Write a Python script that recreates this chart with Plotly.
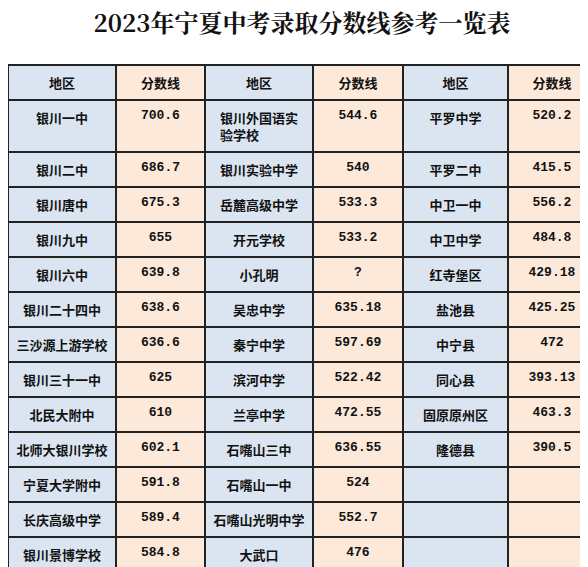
import plotly.graph_objects as go

title = "2023年宁夏中考录取分数线参考一览表"
headers = ["地区", "分数线", "地区", "分数线", "地区", "分数线"]

schools_1 = ["银川一中", "银川二中", "银川唐中", "银川九中", "银川六中", "银川二十四中", "三沙源上游学校",
             "银川三十一中", "北民大附中", "北师大银川学校", "宁夏大学附中", "长庆高级中学", "银川景博学校", "银川高级中学"]
scores_1 = ["700.6", "686.7", "675.3", "655", "639.8", "638.6", "636.6",
            "625", "610", "602.1", "591.8", "589.4", "584.8", "546.3"]
schools_2 = ["银川外国语实<br>验学校", "银川实验中学", "岳麓高级中学", "开元学校", "小孔明", "吴忠中学", "秦宁中学",
             "滨河中学", "兰亭中学", "石嘴山三中", "石嘴山一中", "石嘴山光明中学", "大武口", "惠农区"]
scores_2 = ["544.6", "540", "533.3", "533.2", "?", "635.18", "597.69",
            "522.42", "472.55", "636.55", "524", "552.7", "476", "462"]
schools_3 = ["平罗中学", "平罗二中", "中卫一中", "中卫中学", "红寺堡区", "盐池县", "中宁县",
             "同心县", "固原原州区", "隆德县", "", "", "", ""]
scores_3 = ["520.2", "415.5", "556.2", "484.8", "429.18", "425.25", "472",
            "393.13", "463.3", "390.5", "", "", "", ""]

BLUE = "#dbe5f1"
PEACH = "#fde9d9"
fills = [BLUE, PEACH, BLUE, PEACH, BLUE, PEACH]
cjk = "Noto Sans CJK SC"
mono = "Liberation Mono"
fonts = [cjk, mono, cjk, mono, cjk, mono]

def b(col):
    return ["<b>%s</b>" % v if v else "" for v in col]

fig = go.Figure(go.Table(
    columnwidth=[108, 89, 108, 90, 105, 88],
    header=dict(
        values=["<b>%s</b>" % h for h in headers],
        fill_color=fills,
        line_color="#222222", line_width=1.5,
        font=dict(family=cjk, size=13, color="#111111"),
        align="center", height=31,
    ),
    cells=dict(
        values=[b(schools_1), b(scores_1), b(schools_2), b(scores_2), b(schools_3), b(scores_3)],
        fill_color=fills,
        line_color="#222222", line_width=1.5,
        font=dict(family=fonts, size=[13, 13, 13, 13, 13, 13], color="#111111"),
        align="center", height=34.2,
    ),
))

fig.update_layout(
    width=588, height=567,
    margin=dict(l=0, r=0, t=57, b=0),
    paper_bgcolor="white",
    title=dict(text="<b>%s</b>" % title, x=0.5, xanchor="center", y=0.972, yanchor="middle",
               font=dict(family="Noto Serif CJK SC, Noto Sans CJK SC", size=24, color="#111111")),
)

fig.write_html("out.html")
